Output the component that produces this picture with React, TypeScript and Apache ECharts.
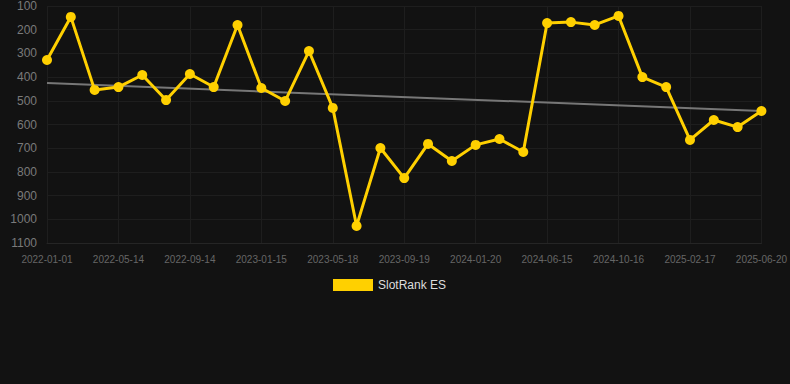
import React, { useEffect, useRef } from "react";
import * as echarts from "echarts";

const categories = [
  "2022-01-01", "2022-02-14", "2022-03-29", "2022-05-14", "2022-06-24", "2022-08-04",
  "2022-09-14", "2022-10-25", "2022-12-05", "2023-01-15", "2023-02-25", "2023-04-07",
  "2023-05-18", "2023-06-28", "2023-08-08", "2023-09-19", "2023-10-30", "2023-12-10",
  "2024-01-20", "2024-03-09", "2024-04-27", "2024-06-15", "2024-07-26", "2024-09-05",
  "2024-10-16", "2024-11-26", "2025-01-06", "2025-02-17", "2025-03-30", "2025-05-10",
  "2025-06-20",
];

const rankValues = [
  328, 146, 454, 442, 391, 497, 387, 442, 180, 446, 501, 290, 530, 1028, 699, 826,
  682, 754, 686, 661, 716, 172, 168, 180, 142, 400, 442, 665, 581, 611, 543,
];

const trendStart = 425;
const trendEnd = 543;

export default function App() {
  const ref = useRef<HTMLDivElement>(null);
  useEffect(() => {
    document.body.style.margin = "0";
    document.body.style.background = "#121212";
    const chart = echarts.init(ref.current!, null, { renderer: "svg" });
    chart.setOption({
      animation: false,
      backgroundColor: "#121212",
      grid: { left: 47, right: 28, top: 6, bottom: 141 },
      legend: {
        top: 274,
        left: 328,
        itemWidth: 40,
        itemHeight: 12,
        data: [{ name: "SlotRank ES", icon: "rect" }],
        textStyle: { color: "#dddddd", fontSize: 12, fontFamily: "Arial, Liberation Sans, sans-serif" },
      },
      xAxis: {
        type: "category",
        data: categories,
        boundaryGap: false,
        axisLine: { show: true, lineStyle: { color: "#252525" } },
        axisTick: { show: false },
        axisLabel: {
          interval: 2,
          color: "#666666",
          fontSize: 10,
          fontFamily: "Arial, Liberation Sans, sans-serif",
          margin: 11,
        },
        splitLine: { show: true, interval: 2, lineStyle: { color: "#1e1e1e" } },
      },
      yAxis: {
        type: "value",
        inverse: true,
        min: 100,
        max: 1100,
        interval: 100,
        axisLine: { show: false },
        axisTick: { show: false },
        axisLabel: {
          color: "#7a7a7a",
          fontSize: 12,
          fontFamily: "Arial, Liberation Sans, sans-serif",
          margin: 10,
          formatter: (v: number) => String(v),
        },
        splitLine: { show: true, lineStyle: { color: "#1e1e1e" } },
      },
      series: [
        {
          name: "SlotRank ES",
          type: "line",
          data: rankValues,
          color: "#FFD000",
          symbol: "circle",
          symbolSize: 10,
          lineStyle: { width: 3, color: "#FFD000" },
          itemStyle: { color: "#FFD000" },
          z: 3,
          markLine: {
            silent: true,
            symbol: "none",
            label: { show: false },
            lineStyle: { color: "#777777", width: 2, type: "solid" },
            data: [[{ coord: [categories[0], trendStart] }, { coord: [categories[categories.length - 1], trendEnd] }]],
            z: 1,
          },
        },
      ],
    });
    return () => chart.dispose();
  }, []);
  return <div ref={ref} style={{ width: 790, height: 384 }} />;
}
